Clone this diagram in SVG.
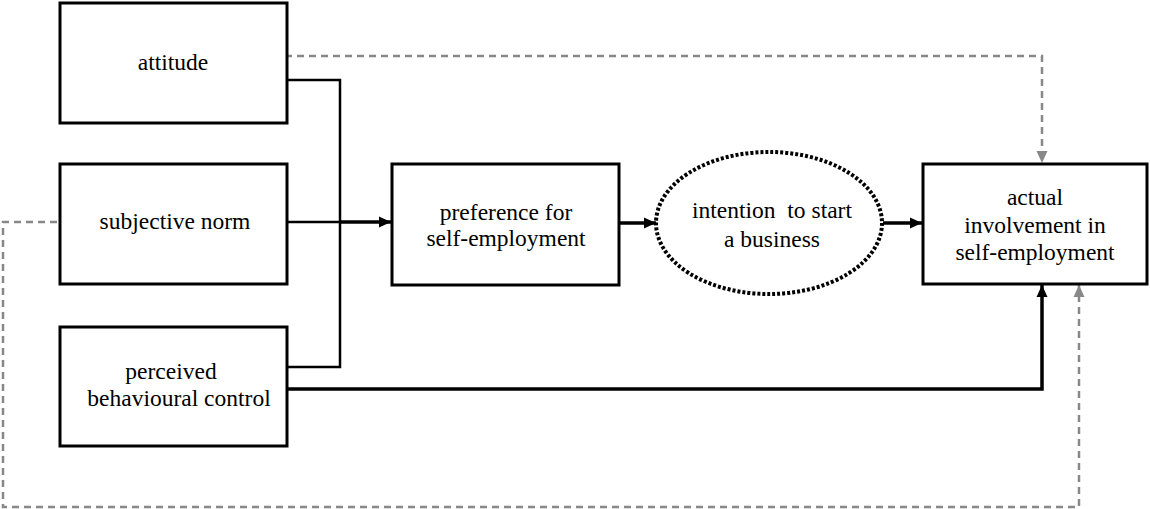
<svg xmlns="http://www.w3.org/2000/svg" width="1150" height="509" viewBox="0 0 1150 509">
<style>
.box{fill:#fff;stroke:#000;stroke-width:3}
.t{font-family:"Liberation Serif","Times New Roman",serif;font-size:23.5px;fill:#000;text-anchor:middle}
.s{fill:none;stroke:#000;stroke-width:3.5}
.s2{fill:none;stroke:#000;stroke-width:2.5}
.d{fill:none;stroke:#888;stroke-width:2.5;stroke-dasharray:7,5}
</style>
<defs>
<marker id="ab" markerWidth="12" markerHeight="12" refX="12" refY="6" orient="auto" markerUnits="userSpaceOnUse"><path d="M0,0.5 L12,6 L0,11.5 Z" fill="#000"/></marker>
<marker id="ag" markerWidth="12" markerHeight="12" refX="12" refY="6" orient="auto" markerUnits="userSpaceOnUse"><path d="M0,0.5 L12,6 L0,11.5 Z" fill="#888"/></marker>
</defs>
<g id="connectors">
<path class="d" d="M285,56 H1042 V163" marker-end="url(#ag)"/>
<path class="d" d="M57,222 H3 V507 H1079 V285" marker-end="url(#ag)"/>
<path class="s2" d="M287,80 H340 V367 H287"/>
<path class="s2" d="M287,222 H340"/>
<path class="s" d="M340,222 H391" marker-end="url(#ab)"/>
<path class="s" d="M619,223 H656" marker-end="url(#ab)"/>
<path class="s" d="M883,223 H922" marker-end="url(#ab)"/>
<path class="s" d="M287,389 H1042 V285" marker-end="url(#ab)"/>
</g>
<g id="attitude">
<rect class="box" x="60" y="3" width="227" height="120"/>
<text class="t" x="173" y="70">attitude</text>
</g>
<g id="subjective-norm">
<rect class="box" x="60" y="164" width="227" height="120"/>
<text class="t" x="175" y="229">subjective norm</text>
</g>
<g id="perceived-behavioural-control">
<rect class="box" x="60" y="327" width="227" height="119"/>
<text class="t" x="171" y="379">perceived</text>
<text class="t" x="179" y="406">behavioural control</text>
</g>
<g id="preference">
<rect class="box" x="392" y="164" width="227" height="121"/>
<text class="t" x="506" y="220">preference for</text>
<text class="t" x="506" y="246">self-employment</text>
</g>
<g id="intention">
<ellipse cx="769" cy="223" rx="113" ry="71" fill="#fff" stroke="#000" stroke-width="4" stroke-dasharray="3,2"/>
<text class="t" x="772" y="218">intention&#160; to start</text>
<text class="t" x="772" y="247">a business</text>
</g>
<g id="actual-involvement">
<rect class="box" x="923" y="164" width="224" height="120"/>
<text class="t" x="1035" y="205">actual</text>
<text class="t" x="1035" y="233">involvement in</text>
<text class="t" x="1035" y="260">self-employment</text>
</g>
</svg>
